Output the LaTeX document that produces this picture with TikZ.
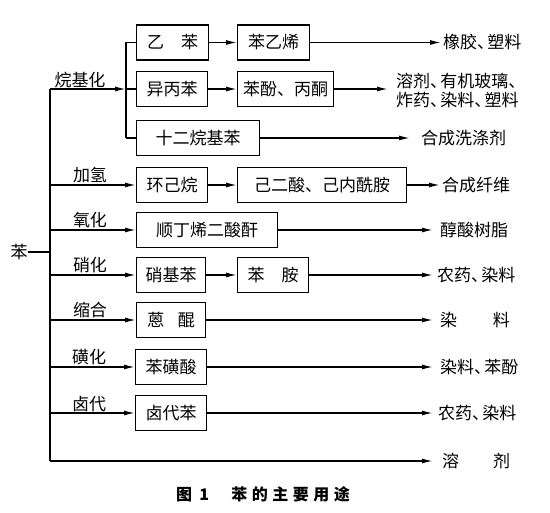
\documentclass[tikz,border=0pt]{standalone}
\usepackage{fontspec}
\setmainfont{Noto Sans CJK SC}
\usetikzlibrary{arrows.meta}
\newcommand\dun{、\kern-.4em}
\begin{document}
\begin{tikzpicture}[x=1pt,y=-1pt,
  every node/.style={font=\fontsize{17}{19}\selectfont, inner sep=0pt},
  box/.style={draw, line width=1.3pt, minimum height=35pt, anchor=west},
  lab/.style={anchor=south},
  outt/.style={anchor=west},
  ln/.style={line width=1.4pt},
  arr/.style={line width=1.4pt, -{Latex[length=11pt,width=5pt]}},
]
\useasboundingbox (0,0) rectangle (550,513);
% main stem
\node (ben) at (19,252) {苯};
\coordinate (mj) at (50,252);
\coordinate (mtop) at (50,89);
\coordinate (mbot) at (50,461);
\draw[ln] (ben.east) -- (mj);
\draw[ln] (mtop) -- (mbot);
% alkylation branch
\coordinate (bj) at (126,89);
\coordinate (btop) at (126,42.5);
\coordinate (bbot) at (126,138);
\node[lab] (l1) at (80,88) {烷基化};
\draw[arr] (mtop) -- (bj);
\draw[ln] (btop) -- (bbot);
% row 1
\node[box, minimum width=72pt] (yb) at (136,42.5) {乙\hspace{1em}苯};
\node[box, minimum width=72pt] (sty) at (237,42.5) {苯乙烯};
\node[outt] (o1) at (443,42.5) {橡胶\dun 塑料};
\draw[ln] (btop) -- (yb.west);
\draw[arr] (yb.east) -- (sty.west);
\draw[arr,shorten >=2pt] (sty.east) -- (o1.west);
% row 2
\node[box, minimum width=71pt] (ipb) at (136,89) {异丙苯};
\node[box, minimum width=96pt] (phe) at (237,89) {苯酚、丙酮};
\node[outt, align=left] (o2) at (396,90.5) {溶剂\dun 有机玻璃、\\炸药\dun 染料\dun 塑料};
\draw[ln] (bj) -- (ipb.west);
\draw[arr] (ipb.east) -- (phe.west);
\draw[arr,shorten >=8pt] (phe.east) -- (phe.east -| o2.west);
% row 3
\node[box, minimum width=123pt] (dod) at (136,138) {十二烷基苯};
\node[outt] (o3) at (421,138) {合成洗涤剂};
\draw[ln] (bbot) -- (dod.west);
\draw[arr,shorten >=11pt] (dod.east) -- (o3.west);
% row 4 hydrogenation
\node[lab] (l2) at (90,183) {加氢};
\node[box, minimum width=71pt] (chx) at (136,185) {环己烷};
\node[box, minimum width=169pt] (adi) at (237,185) {己二酸、己内酰胺};
\node[outt] (o4) at (442,185) {合成纤维};
\draw[arr] (mtop |- chx) -- (chx.west);
\draw[arr] (chx.east) -- (adi.west);
\draw[arr,shorten >=2pt] (adi.east) -- (o4.west);
% row 5 oxidation
\node[lab] (l3) at (90,228) {氧化};
\node[box, minimum width=141pt] (mal) at (136,230) {顺丁烯二酸酐};
\node[outt] (o5) at (440,230) {醇酸树脂};
\draw[arr] (mtop |- mal) -- (mal.west);
\draw[arr,shorten >=7pt] (mal.east) -- (o5.west);
% row 6 nitration
\node[lab] (l4) at (90,273) {硝化};
\node[box, minimum width=69pt] (nit) at (136,275) {硝基苯};
\node[box, minimum width=71pt] (ani) at (237,275) {苯\hspace{1em}胺};
\node[outt] (o6) at (437,275) {农药\dun 染料};
\draw[arr] (mtop |- nit) -- (nit.west);
\draw[arr] (nit.east) -- (ani.west);
\draw[arr,shorten >=4pt] (ani.east) -- (o6.west);
% row 7 condensation
\node[lab] (l5) at (90,318) {缩合};
\node[box, minimum width=69pt] (anq) at (136,320) {蒽\hspace{.8em}醌};
\node[outt] (o7) at (440,320) {染\hspace{2.1em}料};
\draw[arr] (mtop |- anq) -- (anq.west);
\draw[arr,shorten >=7pt] (anq.east) -- (o7.west);
% row 8 sulfonation
\node[lab] (l6) at (89,365) {磺化};
\node[box, minimum width=71pt] (bsa) at (135,367) {苯磺酸};
\node[outt] (o8) at (440,367) {染料\dun 苯酚};
\draw[arr] (mtop |- bsa) -- (bsa.west);
\draw[arr,shorten >=7pt] (bsa.east) -- (o8.west);
% row 9 halogenation
\node[lab] (l7) at (89,412) {卤代};
\node[box, minimum width=71pt] (hal) at (135,413) {卤代苯};
\node[outt] (o9) at (438,413) {农药\dun 染料};
\draw[arr] (mtop |- hal) -- (hal.west);
\draw[arr,shorten >=5pt] (hal.east) -- (o9.west);
% row 10 solvent
\node[outt] (o10) at (442,461) {溶\hspace{2em}剂};
\draw[arr,shorten >=9pt] (mbot) -- (o10.west);
% caption
\node[font=\fontsize{16}{19}\selectfont\bfseries] (cap) at (263,494) {图\hspace{.45em}1\hspace{1.4em}苯\hspace{.28em}的\hspace{.28em}主\hspace{.28em}要\hspace{.28em}用\hspace{.28em}途};
\end{tikzpicture}
\end{document}
